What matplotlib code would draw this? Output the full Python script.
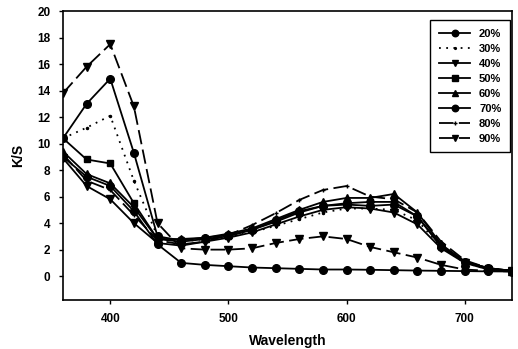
import matplotlib

matplotlib.use("Agg")
import matplotlib.pyplot as plt

wavelength = [360, 380, 400, 420, 440, 460, 480, 500, 520, 540,
              560, 580, 600, 620, 640, 660, 680, 700, 720, 740]

ks_20 = [9.0, 7.5, 6.8, 4.9, 2.4, 1.0, 0.85, 0.75, 0.65, 0.6,
         0.55, 0.5, 0.5, 0.48, 0.45, 0.42, 0.4, 0.38, 0.36, 0.35]
ks_30 = [10.4, 11.2, 12.1, 7.2, 3.0, 2.6, 2.8, 3.0, 3.3, 3.8,
         4.3, 4.8, 5.1, 5.1, 5.0, 4.2, 2.2, 1.0, 0.5, 0.35]
ks_40 = [8.9, 6.8, 5.8, 4.0, 2.5, 2.3, 2.6, 2.9, 3.3, 3.9,
         4.5, 5.0, 5.2, 5.1, 4.8, 3.9, 2.1, 1.0, 0.5, 0.4]
ks_50 = [10.4, 8.8, 8.5, 5.5, 2.8, 2.6, 2.8, 3.0, 3.5, 4.1,
         4.8, 5.3, 5.5, 5.6, 5.6, 4.5, 2.3, 1.1, 0.6, 0.4]
ks_60 = [9.4, 7.7, 7.0, 5.2, 2.8, 2.8, 2.9, 3.2, 3.6, 4.3,
         5.0, 5.6, 5.9, 5.9, 6.2, 4.8, 2.4, 1.1, 0.6, 0.4]
ks_70 = [10.4, 13.0, 14.9, 9.3, 3.0, 2.7, 2.9, 3.1, 3.5, 4.2,
         4.9, 5.3, 5.4, 5.3, 5.4, 4.5, 2.2, 1.1, 0.6, 0.4]
ks_80 = [9.2, 7.2, 6.5, 4.6, 2.7, 2.4, 2.6, 3.1, 3.85, 4.75,
         5.75, 6.5, 6.8, 6.0, 5.8, 4.8, 2.6, 1.2, 0.6, 0.4]
ks_90 = [13.8, 15.8, 17.5, 12.8, 4.0, 2.1, 2.0, 2.0, 2.1, 2.5,
         2.8, 3.0, 2.8, 2.2, 1.8, 1.4, 0.85, 0.5, 0.4, 0.35]

labels = ["20%", "30%", "40%", "50%", "60%", "70%", "80%", "90%"]
series = [ks_20, ks_30, ks_40, ks_50, ks_60, ks_70, ks_80, ks_90]

# (marker, markersize, linestyle)
styles = [
    ("o", 5.5, "-"),
    (".", 3, (0, (1, 3))),
    ("v", 5.5, "-"),
    ("s", 5, "-"),
    ("^", 5.5, "-"),
    ("o", 5.5, "-"),
    ("+", 3, (0, (8, 3))),
    ("v", 5.5, (0, (8, 3))),
]

plt.rcParams["font.family"] = ["Liberation Sans", "DejaVu Sans"]
plt.rcParams["font.weight"] = "bold"

fig = plt.figure(figsize=(5.18, 3.49), dpi=100)
ax = fig.add_axes([0.1216, 0.1404, 0.8668, 0.828])

for lab, ys, (mk, ms, ls) in zip(labels, series, styles):
    ax.plot(wavelength, ys, color="black", linestyle=ls, linewidth=1.3,
            marker=mk, markersize=ms, markeredgewidth=1.0, label=lab)

ax.set_xlim(360, 740)
ax.set_ylim(-1.8, 20)
ax.set_xticks([400, 500, 600, 700])
ax.set_yticks(range(0, 21, 2))
ax.tick_params(direction="out", length=3, width=1, labelsize=8.5, pad=6)
for lbl in ax.get_xticklabels() + ax.get_yticklabels():
    lbl.set_fontweight("bold")
for sp in ax.spines.values():
    sp.set_linewidth(1.2)

ax.set_xlabel("Wavelength", fontsize=10, fontweight="bold", labelpad=7)
ax.set_ylabel("K/S", fontsize=10, fontweight="bold", labelpad=9)

leg = ax.legend(loc="upper right", bbox_to_anchor=(0.996, 0.97), borderaxespad=0,
                fontsize=8, handlelength=2.8, labelspacing=0.45, fancybox=False,
                edgecolor="black", framealpha=1, borderpad=0.8, markerscale=0.85)
leg.get_frame().set_linewidth(1.0)
for t in leg.get_texts():
    t.set_fontweight("bold")

fig.savefig("out.png", dpi=100)
